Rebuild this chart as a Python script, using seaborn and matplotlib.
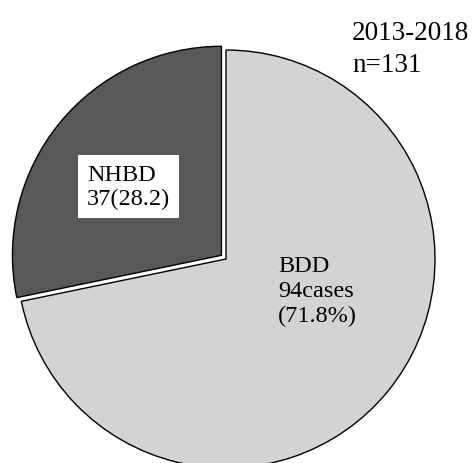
import matplotlib
matplotlib.use("Agg")
import matplotlib.pyplot as plt
import seaborn as sns

# ---- data ----
categories = ["BDD", "NHBD"]
counts = [94, 37]
percents = [71.8, 28.2]
period = "2013-2018"
total_n = 131

# ---- style ----
sns.set_theme(style="white")
plt.rcParams["font.family"] = ["Liberation Serif", "DejaVu Serif"]

colors = ["#d3d3d3", "#585858"]
explode = [0.0, 0.028]

W, H = 474, 464
fig = plt.figure(figsize=(W / 100, H / 100), dpi=100)
ax = fig.add_axes([0, 0, 1, 1])

ax.pie(counts, startangle=90, counterclock=False, explode=explode,
       colors=colors,
       wedgeprops=dict(edgecolor="black", linewidth=1.0))

# pie centre at pixel (226, 260), radius 209 px
cx, cy, r = 226, 260, 209
ax.set_aspect("auto")
ax.set_xlim(-cx / r, (W - cx) / r)
ax.set_ylim(-(H - cy) / r, cy / r)
ax.axis("off")

def fx(px):
    return px / W

def fy(py):
    return 1 - py / H

fs = 17.5
ax.text(fx(87), fy(165), f"{categories[1]}\n{counts[1]}({percents[1]})",
        transform=ax.transAxes, ha="left", va="top", fontsize=fs,
        color="black", linespacing=1.2,
        bbox=dict(boxstyle="square,pad=0.37", facecolor="white",
                  edgecolor="none"))

ax.text(fx(278), fy(256), f"{categories[0]}\n{counts[0]}cases\n({percents[0]}%)",
        transform=ax.transAxes, ha="left", va="top", fontsize=fs,
        color="black", linespacing=1.25)

ax.text(fx(352), fy(21), f"{period}\nn={total_n}",
        transform=ax.transAxes, ha="left", va="top", fontsize=19.5,
        color="black", linespacing=1.35)

fig.savefig("out.png", dpi=100, facecolor="white")
